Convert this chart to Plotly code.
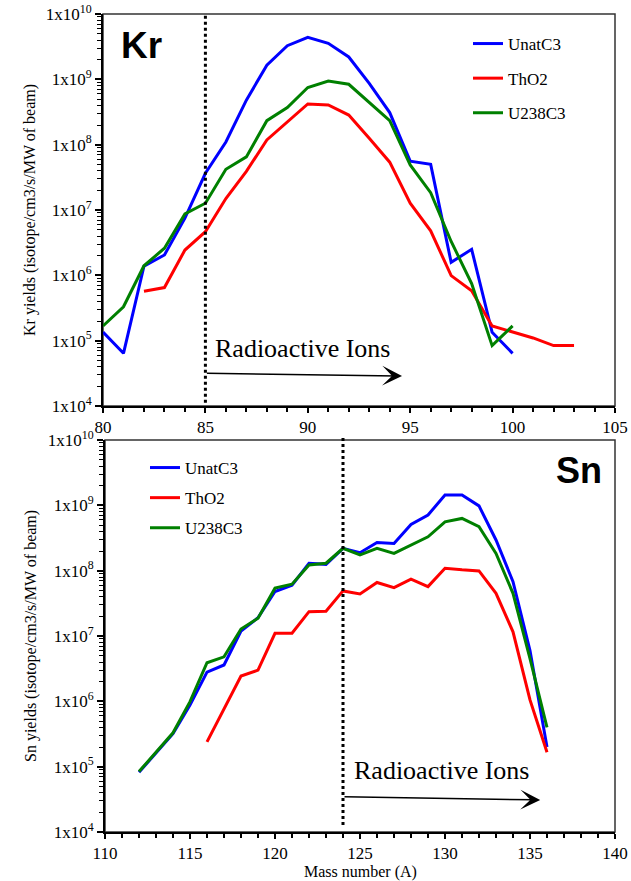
import math
import plotly.graph_objects as go

# ---------------- data ----------------
kr_mass_unat = [80, 81, 82, 83, 84, 85, 86, 87, 88, 89, 90, 91, 92, 93, 94, 95, 96, 97, 98, 99, 100]
kr_unat = [1.35e5, 6.4e4, 1.38e6, 2.05e6, 7.5e6, 3.65e7, 1.1e8, 4.8e8, 1.65e9, 3.27e9, 4.4e9,
           3.56e9, 2.2e9, 8.7e8, 3.1e8, 5.6e7, 5.0e7, 1.58e6, 2.5e6, 1.34e5, 6.4e4]
kr_mass_tho2 = [82, 83, 84, 85, 86, 87, 88, 89, 90, 91, 92, 93, 94, 95, 96, 97, 98, 99, 100, 101, 102, 103]
kr_tho2 = [5.7e5, 6.5e5, 2.44e6, 4.65e6, 1.5e7, 3.9e7, 1.18e8, 2.25e8, 4.2e8, 4.05e8, 2.84e8,
           1.25e8, 5.4e7, 1.27e7, 4.8e6, 9.9e5, 5.8e5, 1.68e5, 1.35e5, 1.1e5, 8.4e4, 8.4e4]
kr_mass_u238 = [80, 81, 82, 83, 84, 85, 86, 87, 88, 89, 90, 91, 92, 93, 94, 95, 96, 97, 98, 99, 100]
kr_u238 = [1.68e5, 3.3e5, 1.4e6, 2.6e6, 8.7e6, 1.27e7, 4.2e7, 6.5e7, 2.33e8, 3.7e8, 7.5e8,
           9.4e8, 8.4e8, 4.5e8, 2.33e8, 4.9e7, 1.84e7, 3.3e6, 7.5e5, 8.4e4, 1.68e5]

sn_mass_unat = list(range(112, 137))
sn_unat = [8.2e4, 1.6e5, 3.2e5, 8.8e5, 2.8e6, 3.6e6, 1.19e7, 1.9e7, 4.8e7, 6.0e7, 1.3e8, 1.25e8,
           2.2e8, 1.88e8, 2.7e8, 2.6e8, 5.1e8, 7.1e8, 1.44e9, 1.44e9, 9.8e8, 2.95e8, 6.8e7, 6.0e6, 2.0e5]
sn_mass_tho2 = list(range(116, 137))
sn_tho2 = [2.4e5, 7.8e5, 2.44e6, 3.0e6, 1.1e7, 1.1e7, 2.36e7, 2.4e7, 4.9e7, 4.4e7, 6.6e7, 5.5e7,
           7.4e7, 5.7e7, 1.09e8, 1.03e8, 9.9e7, 4.5e7, 1.16e7, 1.05e6, 1.66e5]
sn_mass_u238 = list(range(112, 137))
sn_u238 = [8.4e4, 1.64e5, 3.3e5, 9.9e5, 3.9e6, 4.8e6, 1.28e7, 1.87e7, 5.4e7, 6.2e7, 1.22e8, 1.3e8,
           2.2e8, 1.74e8, 2.2e8, 1.84e8, 2.47e8, 3.3e8, 5.6e8, 6.3e8, 4.7e8, 1.84e8, 4.5e7, 4.5e6, 4.0e5]

series_names = ["UnatC3", "ThO2", "U238C3"]
series_colors = ["#0000ff", "#ff0000", "#008000"]

kr_threshold = 85
sn_threshold = 124
kr_arrow = {"x0": 85, "y0": 3.16e4, "x1": 94.6, "y1": 2.88e4}
sn_arrow = {"x0": 124, "y0": 3.47e4, "x1": 135.6, "y1": 3.1e4}
kr_text_pos = (85.37, 7.7e4)
sn_text_pos = (124.5, 8.7e4)

ytick_vals = [10 ** k for k in range(4, 11)]
ytick_text = ["1x10<sup>%d</sup>" % k for k in range(4, 11)]
yminor_vals = [m * 10 ** k for k in range(4, 10) for m in range(2, 10)]

kr_ytitle = "Kr yields (isotope/cm3/s/MW of beam)"
sn_ytitle = "Sn yields (isotope/cm3/s/MW of beam)"
xtitle = "Mass number (A)"

# ---------------- figure ----------------
SERIF = "Liberation Serif"
SANS = "Liberation Sans"
W, H = 631, 881

fig = go.Figure()

def add_series(xs, ys, i, xa, ya, leg, grp):
    fig.add_trace(go.Scatter(
        x=xs, y=ys, mode="lines", name=series_names[i],
        line=dict(color=series_colors[i], width=3),
        xaxis=xa, yaxis=ya, legend=leg, legendgroup=grp + str(i),
    ))

add_series(kr_mass_unat, kr_unat, 0, "x", "y", "legend", "kr")
add_series(kr_mass_tho2, kr_tho2, 1, "x", "y", "legend", "kr")
add_series(kr_mass_u238, kr_u238, 2, "x", "y", "legend", "kr")
add_series(sn_mass_unat, sn_unat, 0, "x2", "y2", "legend2", "sn")
add_series(sn_mass_tho2, sn_tho2, 1, "x2", "y2", "legend2", "sn")
add_series(sn_mass_u238, sn_u238, 2, "x2", "y2", "legend2", "sn")

def px_x(p):
    return p / W

def px_y(p):
    return 1 - p / H

top_dom_x = [px_x(103), px_x(615)]
top_dom_y = [px_y(406), px_y(14)]
bot_dom_x = [px_x(105), px_x(615)]
bot_dom_y = [px_y(832), px_y(440)]

def xaxis_cfg(dom, rng, anchor):
    return dict(
        domain=dom, range=rng, anchor=anchor, showgrid=False, zeroline=False, automargin=False,
        showline=True, linecolor="black", linewidth=2, ticklabeloverflow="allow",
        ticks="outside", ticklen=5, tickwidth=1.5, tickcolor="black",
        dtick=5, tick0=0,
        minor=dict(ticks="outside", ticklen=4, tickwidth=1.5, tickcolor="black", dtick=1),
        tickfont=dict(family=SERIF, size=17, color="black"),
    )

def yaxis_cfg(dom, anchor):
    return dict(
        domain=dom, type="log", range=[4, 10], anchor=anchor, showgrid=False, zeroline=False,
        automargin=False, ticklabeloverflow="allow",
        showline=True, linecolor="black", linewidth=2,
        ticks="outside", ticklen=6, tickwidth=1.5, tickcolor="black",
        tickmode="array", tickvals=ytick_vals, ticktext=ytick_text,
        minor=dict(ticks="outside", ticklen=4, tickwidth=1, tickcolor="black",
                   tickmode="array", tickvals=yminor_vals),
        tickfont=dict(family=SERIF, size=17, color="black"),
    )

shapes = []
for xr, yr in (("x", "y"), ("x2", "y2")):
    shapes.append(dict(type="rect", xref=xr + " domain", yref=yr + " domain",
                       x0=0, x1=1, y0=0, y1=1, line=dict(color="#333333", width=1.5),
                       fillcolor="white", layer="below"))
shapes.append(dict(type="line", xref="x", yref="y domain", x0=kr_threshold, x1=kr_threshold,
                   y0=0.008, y1=1, line=dict(color="black", width=3, dash="dot")))
shapes.append(dict(type="line", xref="x2", yref="y2 domain", x0=sn_threshold, x1=sn_threshold,
                   y0=0.018, y1=1.005, line=dict(color="black", width=3, dash="dot")))

annotations = []
for arr, xr, yr in ((kr_arrow, "x", "y"), (sn_arrow, "x2", "y2")):
    annotations.append(dict(
        x=arr["x1"], y=math.log10(arr["y1"]), ax=arr["x0"], ay=math.log10(arr["y0"]),
        xref=xr, yref=yr, axref=xr, ayref=yr, text="", showarrow=True,
        arrowhead=3, arrowsize=2.2, arrowwidth=1.5, arrowcolor="black"))
for pos, xr, yr in ((kr_text_pos, "x", "y"), (sn_text_pos, "x2", "y2")):
    annotations.append(dict(
        x=pos[0], y=math.log10(pos[1]), xref=xr, yref=yr, text="Radioactive Ions",
        showarrow=False, xanchor="left", yanchor="middle",
        font=dict(family=SERIF, size=26, color="black")))
annotations.append(dict(x=px_x(119), y=px_y(45), xref="paper", yref="paper", text="<b>Kr</b>",
                        showarrow=False, xanchor="left", yanchor="middle",
                        font=dict(family=SANS, size=37, color="black")))
annotations.append(dict(x=px_x(554), y=px_y(471), xref="paper", yref="paper", text="<b>Sn</b>",
                        showarrow=False, xanchor="left", yanchor="middle",
                        font=dict(family=SANS, size=36, color="black")))
# axis titles
annotations.append(dict(x=px_x(30), y=px_y(210), xref="paper", yref="paper", text=kr_ytitle,
                        textangle=-90, showarrow=False, xanchor="center", yanchor="middle",
                        font=dict(family=SERIF, size=16, color="black")))
annotations.append(dict(x=px_x(31), y=px_y(636), xref="paper", yref="paper", text=sn_ytitle,
                        textangle=-90, showarrow=False, xanchor="center", yanchor="middle",
                        font=dict(family=SERIF, size=16, color="black")))
annotations.append(dict(x=px_x(360), y=px_y(872), xref="paper", yref="paper", text=xtitle,
                        showarrow=False, xanchor="center", yanchor="middle",
                        font=dict(family=SERIF, size=16, color="black")))

fig.update_layout(
    width=W, height=H, autosize=False,
    margin=dict(l=0, r=0, t=0, b=0, autoexpand=False),
    paper_bgcolor="white", plot_bgcolor="rgba(0,0,0,0)",
    font=dict(family=SERIF, color="black"),
    xaxis=xaxis_cfg(top_dom_x, [80, 105], "y"),
    yaxis=yaxis_cfg(top_dom_y, "x"),
    xaxis2=xaxis_cfg(bot_dom_x, [110, 140], "y2"),
    yaxis2=yaxis_cfg(bot_dom_y, "x2"),
    shapes=shapes, annotations=annotations,
    legend=dict(x=px_x(468), y=px_y(26), xanchor="left", yanchor="top",
                font=dict(family=SERIF, size=17, color="black"),
                bgcolor="rgba(0,0,0,0)", tracegroupgap=9.5, itemwidth=30),
    legend2=dict(x=px_x(145), y=px_y(450), xanchor="left", yanchor="top",
                 font=dict(family=SERIF, size=17, color="black"),
                 bgcolor="rgba(0,0,0,0)", tracegroupgap=5, itemwidth=30),
    showlegend=True,
)

# remove the browser's default page margin so the figure sits at the window's corner
fig.write_html("out.html",
               config={"displayModeBar": False},
               post_script="document.body.style.margin='0';"
                           "document.documentElement.style.overflow='hidden';")
